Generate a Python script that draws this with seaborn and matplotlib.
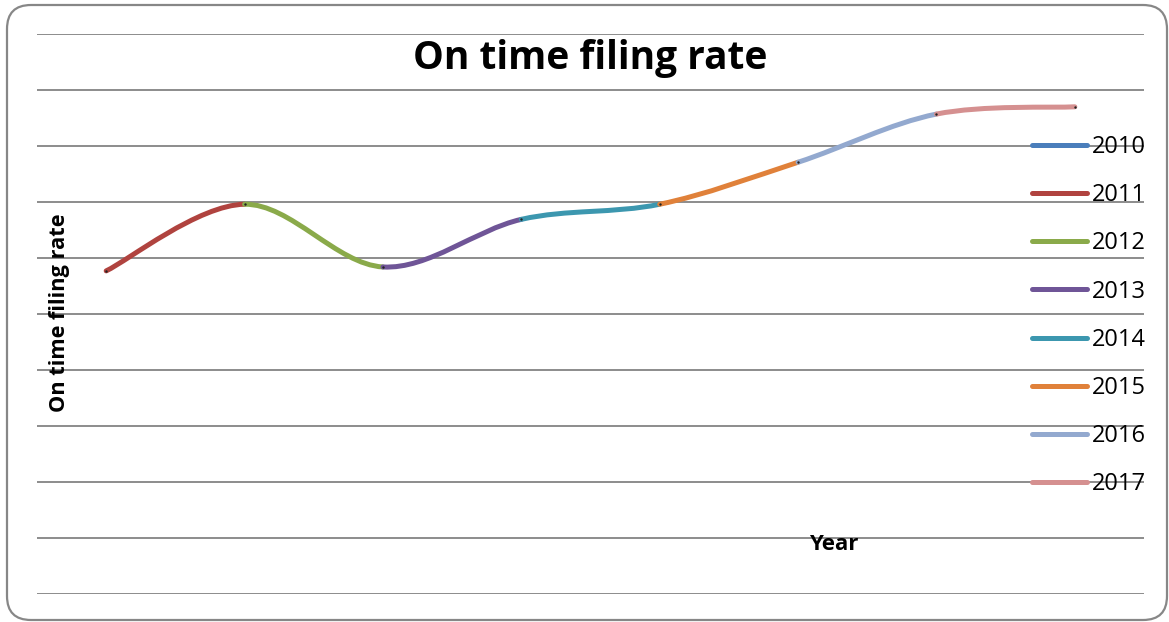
import numpy as np
import pandas as pd
import matplotlib
matplotlib.use("Agg")
import matplotlib.pyplot as plt
import seaborn as sns
from matplotlib.path import Path
from matplotlib.patches import PathPatch, FancyBboxPatch
from matplotlib.lines import Line2D
from matplotlib.transforms import IdentityTransform

# Data (y axis has no labels; gridlines taken as steps of 10)
years = [2010, 2011, 2012, 2013, 2014, 2015, 2016, 2017]
rates = [57.7, 69.6, 58.4, 66.9, 69.6, 77.1, 85.7, 87.0]
series_colors = ["#4A7EBB", "#B0433F", "#8AAA4A", "#6F5597",
                 "#3C97AF", "#E0813A", "#93A9CF", "#D59090"]

sns.set_theme(style="white")
plt.rcParams["font.family"] = ["Open Sans", "DejaVu Sans"]
plt.rcParams["text.color"] = "black"

W, H = 1169, 622
fig = plt.figure(figsize=(W / 100, H / 100), dpi=100)
ax = fig.add_axes([37 / W, 28 / H, 1107 / W, 560 / H])

df = pd.DataFrame({"idx": np.arange(len(years)), "rate": rates, "year": years})

# smoothed segments (Excel style): each year's series joins previous point to this one
x = df["idx"].to_numpy(dtype=float)
y = df["rate"].to_numpy(dtype=float)
pts = np.column_stack([x, y])
for i in range(1, len(pts)):
    p0 = pts[max(i - 2, 0)]
    p1 = pts[i - 1]
    p2 = pts[i]
    p3 = pts[min(i + 1, len(pts) - 1)]
    c1 = p1 + (p2 - p0) / 6
    c2 = p2 - (p3 - p1) / 6
    path = Path([p1, c1, c2, p2], [Path.MOVETO, Path.CURVE4, Path.CURVE4, Path.CURVE4])
    ax.add_patch(PathPatch(path, facecolor="none", edgecolor=series_colors[i],
                           lw=3.6, capstyle="round", zorder=3))

sns.scatterplot(data=df, x="idx", y="rate", color="#222222", s=3, linewidth=0,
                ax=ax, zorder=4, legend=False)

ax.set_xlim(-0.5, 7.5)
ax.set_ylim(0, 100)
ax.set_yticks(np.arange(0, 101, 10))
ax.set_xticks([])
ax.set_yticklabels([])
ax.tick_params(length=0)
ax.set_xlabel("")
ax.set_ylabel("")
ax.grid(axis="y", color="#8C8C8C", lw=1.4)
for s in ax.spines.values():
    s.set_visible(False)
ax.patch.set_alpha(0)

handles = [Line2D([], [], color=c, lw=3.6, solid_capstyle="round") for c in series_colors]
fig.legend(handles, [str(yr) for yr in years], loc="upper left",
           bbox_to_anchor=(1032 / W, 1 - 135 / H), frameon=False,
           fontsize=17, handlelength=2.33, handletextpad=0.2,
           labelspacing=1.025, borderaxespad=0, borderpad=0)

fig.text(590 / W, 1 - 59 / H, "On time filing rate", ha="center", va="center",
         fontsize=28, fontweight="bold", color="black")
fig.text(60 / W, 1 - 313 / H, "On time filing rate", ha="center", va="center",
         rotation=90, fontsize=15.7, fontweight="bold", color="black")
fig.text(834 / W, 1 - 545 / H, "Year", ha="center", va="center",
         fontsize=16, fontweight="bold", color="black")

border = FancyBboxPatch((7, 2), 1160, 615, boxstyle="round,pad=0,rounding_size=24",
                        transform=IdentityTransform(), facecolor="none",
                        edgecolor="#878787", lw=1.6)
fig.patches.append(border)

fig.savefig("out.png", dpi=100)
